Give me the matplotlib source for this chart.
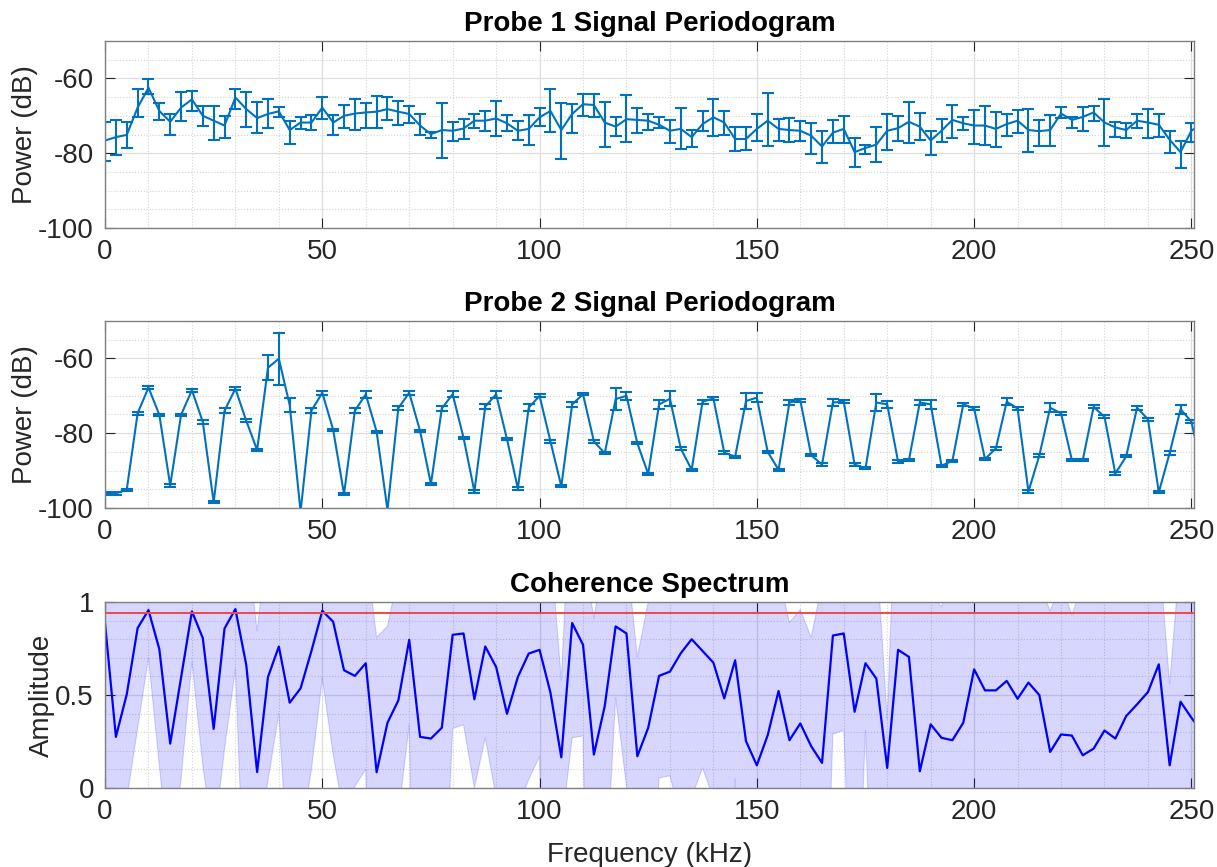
import numpy as np
import matplotlib
matplotlib.use('Agg')
import matplotlib.pyplot as plt
from matplotlib.ticker import MultipleLocator, FormatStrFormatter

plt.rcParams['font.family'] = ['Liberation Sans', 'DejaVu Sans']
plt.rcParams['axes.unicode_minus'] = False

# frequency bins (kHz), 2.5 kHz spacing, last bin sits just past the axis limit
freq_khz = np.arange(102) * 2.5

# probe 1 periodogram (dB) with error bar bounds
p1_power = [-76.6, -75.7, -75.1, -67.8, -62.5, -68.7, -71.6, -67.8, -65.6, -70.0,
            -71.3, -72.6, -65.1, -68.2, -70.6, -69.5, -68.8, -73.8, -71.8, -71.8,
            -67.8, -71.8, -70.0, -69.4, -69.1, -68.9, -68.2, -68.9, -69.5, -72.6,
            -74.9, -73.8, -74.0, -73.4, -71.3, -71.3, -70.7, -72.0, -74.0, -73.5,
            -70.4, -68.7, -73.8, -69.5, -66.9, -67.1, -71.8, -72.9, -70.9, -71.1,
            -71.3, -72.4, -74.0, -73.5, -75.7, -72.2, -70.4, -71.8, -76.2, -76.2,
            -73.5, -71.3, -73.5, -73.8, -74.0, -75.3, -78.2, -74.5, -73.5, -79.7,
            -78.6, -77.7, -74.0, -73.3, -71.6, -72.9, -76.6, -74.0, -71.1, -72.0,
            -72.6, -72.6, -73.5, -72.2, -71.3, -73.8, -74.1, -73.8, -69.4, -71.1,
            -70.3, -69.1, -71.8, -73.1, -73.8, -71.3, -71.8, -72.4, -76.4, -79.7,
            -74.0, -72.0]
p1_high = [-71.6, -71.1, -71.6, -62.9, -60.1, -66.6, -69.5, -63.6, -63.4, -67.3,
           -67.3, -70.0, -62.7, -63.5, -66.3, -65.6, -67.6, -71.3, -70.4, -69.7,
           -65.0, -69.7, -67.1, -65.4, -66.5, -64.7, -65.0, -66.0, -67.3, -69.4,
           -74.4, -66.5, -71.6, -70.9, -69.4, -68.8, -66.0, -69.7, -71.5, -69.7,
           -67.8, -62.7, -66.7, -66.9, -64.2, -64.2, -66.2, -70.4, -64.5, -67.8,
           -69.4, -70.3, -71.1, -68.0, -73.8, -68.7, -65.6, -68.7, -73.1, -73.1,
           -69.4, -64.0, -70.9, -70.6, -71.5, -71.8, -74.1, -71.1, -70.1, -75.9,
           -77.7, -72.9, -69.4, -70.0, -66.3, -69.3, -74.0, -70.9, -67.2, -70.4,
           -68.4, -67.3, -69.1, -69.4, -68.4, -68.2, -71.1, -69.7, -67.6, -70.3,
           -67.6, -67.3, -65.6, -71.6, -71.8, -69.4, -68.2, -69.4, -74.0, -76.8,
           -72.0, -70.0]
p1_low = [-82.1, -80.6, -78.7, -70.3, -64.2, -71.0, -75.0, -71.3, -68.7, -72.6,
          -76.4, -75.9, -68.2, -73.1, -74.7, -73.3, -70.3, -77.5, -73.5, -73.8,
          -70.9, -75.0, -73.3, -73.8, -73.3, -73.3, -71.1, -72.4, -71.8, -75.1,
          -75.9, -81.2, -76.8, -76.2, -73.3, -74.1, -75.5, -74.1, -76.4, -77.8,
          -72.6, -74.4, -81.5, -74.7, -70.0, -70.4, -78.4, -75.5, -77.1, -74.6,
          -73.8, -73.3, -77.2, -78.9, -78.4, -74.1, -75.5, -75.0, -79.3, -79.1,
          -76.8, -78.0, -76.8, -77.1, -76.8, -80.2, -82.6, -77.4, -77.3, -83.7,
          -80.2, -82.4, -79.1, -76.8, -77.3, -76.6, -80.4, -77.1, -75.9, -73.8,
          -77.5, -77.7, -78.3, -75.5, -74.6, -79.7, -78.2, -78.0, -70.6, -73.3,
          -74.1, -71.3, -78.2, -75.6, -75.9, -73.3, -76.0, -75.6, -80.0, -84.0,
          -77.1, -74.0]

# probe 2 periodogram (dB) and half-width of its error bars
p2_power = [-96.1, -96.1, -95.1, -74.7, -67.8, -75.1, -94.0, -75.1, -68.5, -77.0,
            -98.5, -74.0, -68.1, -76.7, -84.5, -62.5, -60.1, -72.5, -101.0, -74.0,
            -69.2, -79.1, -96.3, -74.0, -69.6, -79.6, -100.5, -73.3, -69.2, -79.4,
            -93.6, -73.4, -69.6, -81.2, -95.6, -72.9, -69.6, -81.6, -94.8, -73.2,
            -70.0, -82.2, -94.2, -72.3, -69.6, -82.2, -85.4, -70.9, -70.0, -82.7,
            -90.9, -72.3, -70.8, -84.1, -89.8, -71.6, -70.7, -85.2, -86.3, -71.4,
            -70.5, -85.0, -89.8, -71.8, -71.2, -85.9, -88.4, -71.8, -71.6, -88.4,
            -89.4, -71.8, -72.3, -87.6, -87.2, -71.8, -72.3, -88.7, -87.4, -72.3,
            -73.4, -86.9, -84.1, -71.6, -73.4, -95.6, -86.0, -73.2, -74.7, -87.2,
            -87.2, -73.0, -75.6, -90.8, -86.2, -73.2, -76.3, -95.8, -85.3, -73.6,
            -76.9, -90.0]
p2_err = [0.3, 0.3, 0.3, 0.4, 0.4, 0.3, 0.3, 0.3, 0.4, 0.5,
          0.3, 0.6, 0.4, 0.4, 0.3, 3.3, 6.9, 1.9, 0.3, 0.6,
          0.6, 0.3, 0.3, 0.6, 1.0, 0.3, 0.3, 0.6, 0.5, 0.3,
          0.3, 0.6, 0.8, 0.3, 0.3, 0.7, 1.0, 0.3, 0.3, 0.9,
          0.4, 0.3, 0.3, 0.6, 0.3, 0.4, 0.3, 2.9, 1.1, 0.3,
          0.3, 1.2, 2.0, 0.3, 0.3, 0.6, 0.3, 0.3, 0.3, 2.1,
          1.2, 0.3, 0.3, 0.8, 0.4, 0.3, 0.3, 0.9, 0.4, 0.3,
          0.3, 2.2, 1.0, 0.3, 0.3, 0.7, 1.3, 0.3, 0.3, 0.4,
          0.4, 0.3, 0.5, 1.0, 0.4, 0.3, 0.3, 1.2, 0.4, 0.3,
          0.3, 0.4, 0.4, 0.3, 0.3, 0.5, 0.4, 0.3, 0.6, 1.2,
          0.5, 0.5]

# coherence and its confidence band
coherence = [0.885, 0.275, 0.504, 0.860, 0.957, 0.746, 0.239, 0.594, 0.950, 0.806,
             0.318, 0.858, 0.962, 0.662, 0.086, 0.597, 0.761, 0.459, 0.536, 0.737,
             0.953, 0.894, 0.633, 0.603, 0.671, 0.085, 0.351, 0.471, 0.797, 0.275,
             0.266, 0.324, 0.824, 0.831, 0.477, 0.761, 0.651, 0.399, 0.597, 0.723,
             0.743, 0.513, 0.165, 0.887, 0.770, 0.180, 0.441, 0.869, 0.831, 0.171,
             0.324, 0.603, 0.626, 0.725, 0.800, 0.737, 0.674, 0.482, 0.687, 0.252,
             0.122, 0.284, 0.522, 0.257, 0.347, 0.225, 0.135, 0.820, 0.831, 0.410,
             0.671, 0.588, 0.108, 0.743, 0.705, 0.090, 0.342, 0.270, 0.257, 0.351,
             0.638, 0.525, 0.525, 0.576, 0.480, 0.567, 0.500, 0.194, 0.288, 0.282,
             0.176, 0.212, 0.309, 0.266, 0.387, 0.450, 0.516, 0.665, 0.122, 0.464,
             0.378, 0.300]
coh_low = [-0.30, -0.50, -0.06, 0.32, 0.70, 0.12, -0.45, 0.05, 0.68, 0.12,
           -0.29, 0.21, 0.64, -0.88, -0.32, 0.04, 0.40, -0.60, -0.27, 0.10,
           0.59, 0.18, -0.15, 0.01, 0.10, -3.0, -0.50, -0.15, 0.34, -3.0,
           -0.50, -1.00, 0.32, 0.34, 0.00, 0.27, -0.05, -0.50, -0.10, 0.045,
           0.17, -3.0, -0.22, 0.27, 0.28, -3.0, -0.59, 0.485, 0.01, -0.40,
           -0.90, 0.054, 0.066, -0.16, -0.05, 0.108, -0.055, -1.0, 0.05, -1.0,
           -0.60, -0.40, -0.30, -0.50, -0.40, -0.60, -1.50, 0.29, 0.31, -1.2,
           0.31, -1.2, -0.80, -0.40, -0.50, -1.50, -0.80, -0.90, -0.90, -0.70,
           -0.40, -0.50, -0.50, -0.45, -0.55, -0.45, -0.50, -1.0, -0.80, -0.80,
           -1.0, -0.90, -0.80, -0.90, -0.70, -0.60, -0.50, -0.30, -1.2, -0.60,
           -0.70, -0.80]
coh_high = [1.20, 1.15, 1.25, 1.30, 1.30, 1.25, 1.15, 1.25, 1.30, 1.30,
            1.15, 1.30, 1.30, 1.35, 0.845, 1.35, 1.30, 1.20, 1.25, 1.30,
            1.30, 1.30, 1.25, 1.25, 1.29, 0.81, 0.87, 1.15, 1.30, 1.15,
            1.15, 1.20, 1.30, 1.30, 1.20, 1.30, 1.25, 1.20, 1.25, 1.30,
            1.30, 1.31, 0.58, 1.82, 1.30, 0.91, 1.30, 1.30, 1.27, 0.705,
            1.00, 1.25, 1.25, 1.30, 1.30, 1.30, 1.25, 1.20, 1.25, 1.15,
            1.10, 1.15, 1.15, 0.89, 0.96, 0.81, 1.10, 1.30, 1.30, 1.20,
            1.25, 1.30, 0.37, 1.95, 1.30, 1.10, 1.05, 0.975, 1.20, 1.20,
            1.25, 1.25, 1.25, 1.25, 1.20, 1.25, 1.10, 0.953, 1.10, 0.93,
            1.10, 1.15, 1.15, 1.15, 1.20, 1.20, 1.25, 1.28, 0.56, 1.28,
            1.20, 1.15]
coh_threshold = 0.94

BLUE = '#0072BD'
X_MAX = 250.6


def style_axes(ax, ylim, ymajor, yminor):
    ax.set_xlim(0, X_MAX)
    ax.set_ylim(*ylim)
    ax.xaxis.set_major_locator(MultipleLocator(50))
    ax.xaxis.set_minor_locator(MultipleLocator(10))
    ax.yaxis.set_major_locator(MultipleLocator(ymajor))
    ax.yaxis.set_minor_locator(MultipleLocator(yminor))
    ax.set_axisbelow(True)
    ax.grid(True, which='major', color='#dedede', lw=0.9, ls='-')
    ax.grid(True, which='minor', color='#d4d4d4', lw=0.8, ls=':')
    ax.tick_params(which='major', direction='in', length=7, width=0.8,
                   top=True, right=True, labelsize=20, colors='#262626', pad=8)
    ax.tick_params(which='minor', length=0)
    for sp in ax.spines.values():
        sp.set_color('#808080')
        sp.set_linewidth(1.0)


fig = plt.figure(figsize=(12.17, 8.67), dpi=100)
left, width = 0.0863, 0.8948

# probe 1
ax1 = fig.add_axes([left, 0.737, width, 0.2157])
p1 = np.array(p1_power)
ax1.errorbar(freq_khz, p1, yerr=[p1 - np.array(p1_low), np.array(p1_high) - p1],
             color=BLUE, lw=1.5, elinewidth=1.5, capsize=4, capthick=1.5)
style_axes(ax1, (-100, -50), 20, 5)
ax1.set_title('Probe 1 Signal Periodogram', fontsize=20, fontweight='bold', pad=7)
ax1.set_ylabel('Power (dB)', fontsize=20, color='#262626', labelpad=0)

# probe 2
ax2 = fig.add_axes([left, 0.4141, width, 0.2157])
ax2.errorbar(freq_khz, p2_power, yerr=p2_err,
             color=BLUE, lw=1.5, elinewidth=1.5, capsize=4, capthick=1.5)
style_axes(ax2, (-100, -50), 20, 5)
ax2.set_title('Probe 2 Signal Periodogram', fontsize=20, fontweight='bold', pad=7)
ax2.set_ylabel('Power (dB)', fontsize=20, color='#262626', labelpad=0)

# coherence
ax3 = fig.add_axes([left, 0.0911, width, 0.2145])
ax3.fill_between(freq_khz, coh_low, coh_high, facecolor=(0, 0, 1), alpha=0.16,
                 edgecolor=(0, 0, 1, 0.25), lw=0.8)
ax3.plot(freq_khz, coherence, color='#0000ff', lw=1.6)
ax3.axhline(coh_threshold, color='#f04848', lw=1.4)
style_axes(ax3, (0, 1), 0.5, 0.1)
ax3.yaxis.set_major_formatter(FormatStrFormatter('%g'))
ax3.set_title('Coherence Spectrum', fontsize=20, fontweight='bold', pad=7)
ax3.set_ylabel('Amplitude', fontsize=20, color='#262626', labelpad=0)
ax3.set_xlabel('Frequency (kHz)', fontsize=20, color='#262626', labelpad=12)

fig.savefig('out.png', dpi=100)
